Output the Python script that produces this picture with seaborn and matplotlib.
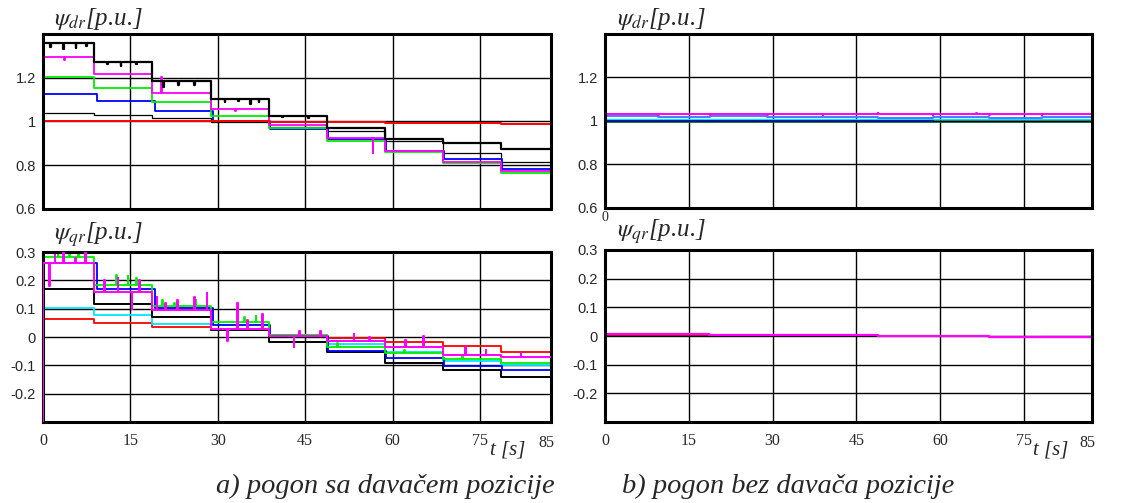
import numpy as np
import pandas as pd
import matplotlib
matplotlib.use("Agg")
import matplotlib.pyplot as plt
import seaborn as sns

# ---------------------------------------------------------------- data
T_END = 87.2                     # end of the recorded time window [s]
X_TICKS = [0, 15, 30, 45, 60, 75]
X_TICK_LABELS = ["0", "15", "30", "45", "60", "75"]
X_END_LABEL = "85"

DR_TICKS = [0.6, 0.8, 1.0, 1.2, 1.4]
DR_TICK_LABELS = ["0.6", "0.8", "1", "1.2", ""]
QR_TICKS = [-0.3, -0.2, -0.1, 0.0, 0.1, 0.2, 0.3]
QR_TICK_LABELS = ["", "-0.2", "-0.1", "0", "0.1", "0.2", "0.3"]

# a) drive with position sensor: instants of the load steps
STEP_T = [0, 8.7, 18.7, 28.8, 38.8, 48.8, 58.7, 68.7, 78.7]
STEP_T_BLUE = [0, 9.3, 19.2, 29.2, 39.0, 48.9, 58.8, 68.8, 78.8]

# psi_dr levels per interval
dr_black_thick = [1.358, 1.271, 1.183, 1.102, 1.027, 0.968, 0.922, 0.900, 0.873]
dr_black_thin = [1.041, 1.030, 1.015, 0.997, 0.977, 0.957, 0.910, 0.858, 0.816]
dr_magenta = [1.297, 1.218, 1.132, 1.056, 0.984, 0.924, 0.865, 0.816, 0.772]
dr_green = [1.203, 1.152, 1.091, 1.027, 0.969, 0.911, 0.862, 0.809, 0.766]
dr_blue = [1.125, 1.096, 1.050, 1.004, 0.965, 0.918, 0.867, 0.827, 0.783]
dr_red = [1.003, 1.004, 1.002, 1.000, 0.998, 0.997, 0.994, 0.992, 0.990]

dr_black_spikes = [(1.2, 1.340), (3.5, 1.330), (5.6, 1.335), (7.4, 1.345),
                   (11.0, 1.262), (13.3, 1.252), (16.0, 1.262), (20.6, 1.160),
                   (23.2, 1.165), (26.0, 1.168), (31.2, 1.088), (33.5, 1.095),
                   (35.6, 1.080), (37.0, 1.090), (41.0, 1.020), (45.5, 1.018)]
dr_magenta_spikes = [(3.6, 1.282), (20.3, 1.205), (33.0, 1.046), (56.6, 0.857)]

# psi_qr levels per interval
qr_green = [0.283, 0.183, 0.109, 0.054, 0.008, -0.035, -0.056, -0.076, -0.091]
qr_blue = [0.260, 0.169, 0.101, 0.042, 0.005, -0.049, -0.073, -0.102, -0.117]
qr_magenta = [0.260, 0.160, 0.095, 0.030, 0.005, -0.015, -0.037, -0.062, -0.070]
qr_black = [0.168, 0.116, 0.071, 0.024, -0.019, -0.054, -0.091, -0.117, -0.141]
qr_cyan = [0.101, 0.078, 0.046, 0.024, 0.007, -0.023, -0.052, -0.085, -0.098]
qr_red = [0.065, 0.050, 0.036, 0.024, 0.007, -0.005, -0.017, -0.032, -0.052]
qr_start = -0.3                  # start-up transient of the estimator

qr_magenta_spikes = [(1.0, 0.180), (2.0, 0.290), (3.5, 0.300), (5.5, 0.280),
                     (7.2, 0.300), (10.5, 0.200), (12.8, 0.210), (15.2, 0.100),
                     (16.5, 0.200), (19.5, 0.140), (21.0, 0.120), (23.0, 0.130),
                     (26.0, 0.140), (28.1, 0.155), (31.6, -0.013), (33.3, 0.120),
                     (35.0, 0.060), (37.6, 0.080), (43.0, -0.036), (44.0, 0.020),
                     (47.6, 0.020), (53.3, 0.010), (56.0, 0.000), (62.2, -0.010),
                     (65.3, 0.002), (72.5, -0.035), (76.0, -0.045), (82.0, -0.058)]
qr_green_spikes = [(2.5, 0.300), (4.5, 0.310), (6.0, 0.295), (12.5, 0.220),
                   (14.5, 0.215), (16.0, 0.210), (20.5, 0.130), (22.5, 0.120),
                   (26.2, 0.130), (34.5, 0.070), (36.5, 0.075), (50.5, -0.020),
                   (62.0, -0.045), (72.0, -0.065)]

# b) sensorless drive
STEP_T_R = [0, 9.5, 18.8, 29.0, 39.0, 48.8, 58.7, 68.8, 78.2]
b_dr_magenta = [1.033, 1.033, 1.033, 1.033, 1.033, 1.033, 1.033, 1.033, 1.033]
b_dr_lightblue = [1.024, 1.020, 1.022, 1.018, 1.019, 1.016, 1.018, 1.016, 1.017]
b_dr_cyan = [1.009, 1.008, 1.008, 1.007, 1.008, 1.007, 1.007, 1.007, 1.007]
b_dr_black = [1.004, 1.004, 1.003, 1.003, 1.003, 1.003, 1.002, 1.002, 1.002]
b_dr_blue = [1.000, 1.000, 1.000, 1.000, 1.000, 1.000, 1.000, 1.000, 1.000]
b_dr_darkgreen = [0.998, 0.998, 0.998, 0.998, 0.998, 0.998, 0.998, 0.998, 0.998]
b_dr_magenta_spikes = [(9.5, 1.027), (18.8, 1.027), (29.0, 1.027), (39.0, 1.028),
                       (48.8, 1.038), (58.7, 1.027), (66.5, 1.037), (68.8, 1.028),
                       (78.2, 1.027)]

STEP_T_RQ = [0, 18.7, 48.8, 68.7]
b_qr_magenta = [0.008, 0.004, 0.001, -0.002]
b_qr_darkred = [0.003, 0.003]
T_DARKRED = [0, 18.7]
b_qr_orange = [-0.004, -0.004]
T_ORANGE = [68.7, 78.2]
b_qr_gray = [-0.003, -0.003]
T_GRAY = [78.2, 87.2]

CAPTION_A = "a) pogon sa davačem pozicije"
CAPTION_B = "b) pogon bez davača pozicije"
LABEL_DR = r"$\psi_{dr}$[p.u.]"
LABEL_QR = r"$\psi_{qr}$[p.u.]"
T_LABEL = "t [s]"


def step_frame(times, levels, spikes=(), start=None, t_end=T_END, width=0.12):
    """Staircase samples (for steps-post drawing) with short pulses."""
    pts = []
    if start is not None:
        pts.append((times[0], start))
    pts += list(zip(times, levels))
    for ts, peak in spikes:
        i = int(np.searchsorted(times, ts, side="right")) - 1
        pts.append((ts, peak))
        pts.append((ts + width, levels[i]))
    pts.append((t_end, levels[-1]))
    pts.sort(key=lambda p: p[0])
    return pd.DataFrame(pts, columns=["t", "psi"])


def draw(ax, df, color, lw=1.3, z=2):
    sns.lineplot(data=df, x="t", y="psi", ax=ax, color=color, lw=lw,
                 drawstyle="steps-post", sort=False, estimator=None,
                 legend=False, zorder=z)


# ---------------------------------------------------------------- figure
sns.set_theme(style="white")
plt.rcParams["font.family"] = ["Liberation Sans", "DejaVu Sans"]
plt.rcParams["mathtext.fontset"] = "stix"

fig = plt.figure(figsize=(11.33, 5.03), dpi=100)
ax_a1 = fig.add_axes([0.038, 0.5845, 0.4483, 0.3479])
ax_a2 = fig.add_axes([0.038, 0.161, 0.4483, 0.338])
ax_b1 = fig.add_axes([0.534, 0.5865, 0.4298, 0.3459])
ax_b2 = fig.add_axes([0.534, 0.161, 0.4298, 0.342])

MAG = "#ff00ff"
GRN = "#00ee00"
BLU = "#0000ff"
CYN = "#00e5ff"
RED = "#ff0000"

# a) psi_dr
draw(ax_a1, step_frame(STEP_T, dr_black_thin), "black", lw=0.9)
draw(ax_a1, step_frame(STEP_T_BLUE, dr_blue), BLU)
draw(ax_a1, step_frame(STEP_T, dr_green), GRN)
draw(ax_a1, step_frame(STEP_T, dr_magenta, dr_magenta_spikes), MAG)
draw(ax_a1, step_frame(STEP_T, dr_red), RED, lw=1.4)
draw(ax_a1, step_frame(STEP_T, dr_black_thick, dr_black_spikes), "black", lw=1.6)

# a) psi_qr
draw(ax_a2, step_frame(STEP_T, qr_red), RED)
draw(ax_a2, step_frame(STEP_T, qr_cyan), CYN)
draw(ax_a2, step_frame(STEP_T, qr_black), "black", lw=1.4)
draw(ax_a2, step_frame(STEP_T_BLUE, qr_blue), BLU)
draw(ax_a2, step_frame(STEP_T, qr_green, qr_green_spikes), GRN)
draw(ax_a2, step_frame(STEP_T, qr_magenta, qr_magenta_spikes, start=qr_start),
     MAG, lw=1.4, z=3)

# b) psi_dr
draw(ax_b1, step_frame(STEP_T_R, b_dr_darkgreen), "#007a00", lw=1.8)
draw(ax_b1, step_frame(STEP_T_R, b_dr_blue), BLU, lw=1.0)
draw(ax_b1, step_frame(STEP_T_R, b_dr_black), "black", lw=0.8)
draw(ax_b1, step_frame(STEP_T_R, b_dr_cyan), CYN, lw=1.0)
draw(ax_b1, step_frame(STEP_T_R, b_dr_lightblue), "#4a7dff", lw=1.4)
draw(ax_b1, step_frame(STEP_T_R, b_dr_magenta, b_dr_magenta_spikes), MAG, lw=1.4)

# b) psi_qr
draw(ax_b2, step_frame(T_DARKRED, b_qr_darkred, t_end=T_DARKRED[-1]), "#a01010", lw=1.4)
draw(ax_b2, step_frame(T_ORANGE, b_qr_orange, t_end=T_ORANGE[-1]), "#ff9a20", lw=1.6)
draw(ax_b2, step_frame(T_GRAY, b_qr_gray, t_end=T_GRAY[-1]), "#5a7a6a", lw=1.6)
draw(ax_b2, step_frame(STEP_T_RQ, b_qr_magenta), MAG, lw=1.6)

serif = ["Liberation Serif", "DejaVu Serif"]

for ax in (ax_a1, ax_a2, ax_b1, ax_b2):
    ax.set_xlim(0, T_END)
    ax.set_xticks(X_TICKS)
    ax.set_xlabel("")
    ax.set_ylabel("")
    ax.grid(True, color="black", lw=1.0)
    ax.tick_params(length=0, labelsize=10.5, pad=5)
    for s in ax.spines.values():
        s.set_color("black")
        s.set_linewidth(2.2)
    ax.set_facecolor("white")

for ax in (ax_a1, ax_b1):
    ax.set_ylim(0.6, 1.4)
    ax.set_yticks(DR_TICKS)
    ax.set_yticklabels(DR_TICK_LABELS)
    ax.set_xticklabels([])

for ax in (ax_a2, ax_b2):
    ax.set_ylim(-0.3, 0.3)
    ax.set_yticks(QR_TICKS)
    ax.set_yticklabels(QR_TICK_LABELS)
    ax.set_xticklabels(X_TICK_LABELS, family=serif, fontsize=11.5)
    ax.tick_params(axis="x", pad=8)
    ax.text(0.99, -0.075, X_END_LABEL, transform=ax.transAxes, ha="center",
            va="top", family=serif, fontsize=11.5)
    ax.text(0.915, -0.11, T_LABEL, transform=ax.transAxes, ha="center",
            va="top", family=serif, style="italic", fontsize=15)

# stray time label under the upper sensorless panel
ax_b1.text(0.0, -0.02, X_TICK_LABELS[0], transform=ax_b1.transAxes,
           ha="center", va="top", family=serif, fontsize=10)

# panel quantities
lab = dict(family=serif, style="italic", fontsize=18, va="baseline")
fig.text(0.048, 0.950, LABEL_DR, **lab)
fig.text(0.545, 0.950, LABEL_DR, **lab)
fig.text(0.048, 0.523, LABEL_QR, **lab)
fig.text(0.545, 0.529, LABEL_QR, **lab)

# captions
cap = dict(family=serif, style="italic", fontsize=20.5, va="baseline")
fig.text(0.340, 0.020, CAPTION_A, ha="center", **cap)
fig.text(0.549, 0.020, CAPTION_B, ha="left", **cap)

fig.savefig("out.png", dpi=100, facecolor="white")
